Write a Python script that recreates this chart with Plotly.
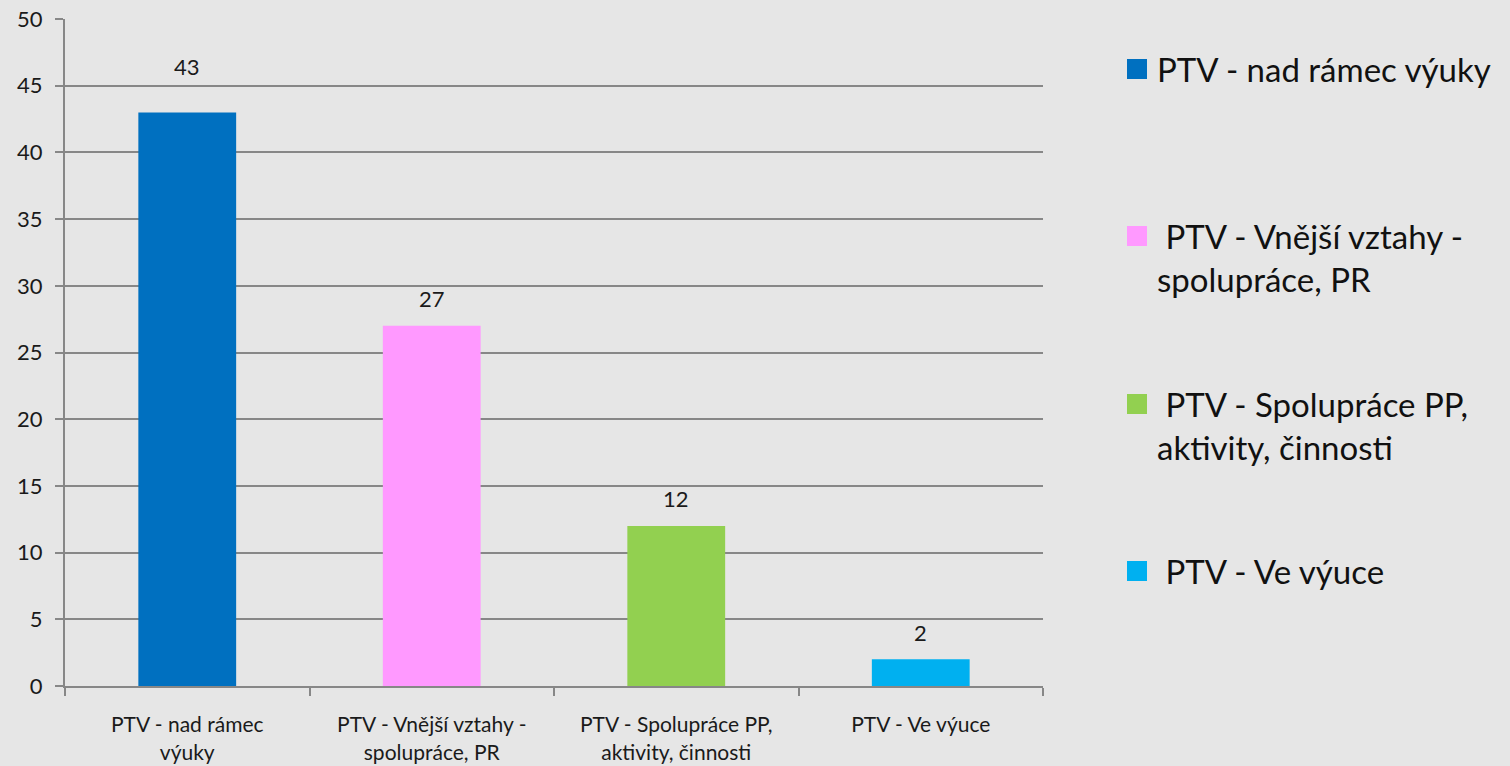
import plotly.graph_objects as go

categories = [
    "PTV - nad rámec<br>výuky",
    "PTV - Vnější vztahy -<br>spolupráce, PR",
    "PTV - Spolupráce PP,<br>aktivity, činnosti",
    "PTV - Ve výuce",
]
legend_labels = [
    "PTV - nad rámec výuky",
    "\u00a0PTV - Vnější vztahy -<br>spolupráce, PR",
    "\u00a0PTV - Spolupráce PP,<br>aktivity, činnosti",
    "\u00a0PTV - Ve výuce",
]
values = [43, 27, 12, 2]
colors = ["#0070C0", "#FF99FF", "#92D050", "#00B0F0"]
label_shift = [46, 27, 27, 27]

W, H = 1510, 766
L, R, T, B = 65, 1043, 19, 686
FONT = "Lato"
BG = "#e6e6e6"
GRID = "#878787"
TXT = "#1a1a1a"

fig = go.Figure()
fig.add_trace(go.Bar(
    x=categories, y=values, marker=dict(color=colors, line=dict(width=0)),
    width=0.4, showlegend=False, hoverinfo="x+y",
))

# data labels
for c, v, s in zip(categories, values, label_shift):
    fig.add_annotation(x=c, y=v, text=str(v), showarrow=False, yshift=s,
                       font=dict(family=FONT, size=22, color=TXT))

def px_to_paper(xp, yp):
    return (xp - L) / (R - L), 1 - (yp - T) / (B - T)

# legend (manual)
leg_centers = [69, 236, 404, 571]
for lab, col, cy in zip(legend_labels, colors, leg_centers):
    x0, y0 = px_to_paper(1127, cy - 10)
    x1, y1 = px_to_paper(1147, cy + 10)
    fig.add_shape(type="rect", xref="paper", yref="paper", x0=x0, x1=x1, y0=y1, y1=y0,
                  fillcolor=col, line=dict(width=0))
    tx, ty = px_to_paper(1155, cy - 22)
    fig.add_annotation(xref="paper", yref="paper", x=tx, y=ty, xanchor="left", yanchor="top",
                       text=lab, align="left", showarrow=False,
                       font=dict(family=FONT, size=33, color="#111111"))

fig.update_layout(
    width=W, height=H,
    margin=dict(l=L, r=W - R, t=T, b=H - B, autoexpand=False),
    paper_bgcolor=BG, plot_bgcolor=BG,
    font=dict(family=FONT, color=TXT),
    showlegend=False,
)
fig.update_yaxes(
    range=[0, 50], dtick=5, showgrid=True, gridcolor=GRID, gridwidth=2,
    showline=True, linecolor=GRID, linewidth=2,
    ticks="outside", ticklen=8, tickcolor=GRID, tickwidth=2,
    tickfont=dict(family=FONT, size=22, color=TXT),
    ticklabelstandoff=8, zeroline=False, fixedrange=True, automargin=False,
)
fig.update_xaxes(
    showline=True, linecolor=GRID, linewidth=2,
    ticks="outside", ticklen=8, tickcolor=GRID, tickwidth=2,
    tickson="boundaries", showgrid=False,
    tickfont=dict(family=FONT, size=21, color=TXT),
    ticklabelstandoff=19, fixedrange=True, automargin=False,
)

fig.write_html(
    "out.html",
    config={"displayModeBar": False},
    post_script="document.body.style.margin='0';document.body.style.background='#e6e6e6';",
)
